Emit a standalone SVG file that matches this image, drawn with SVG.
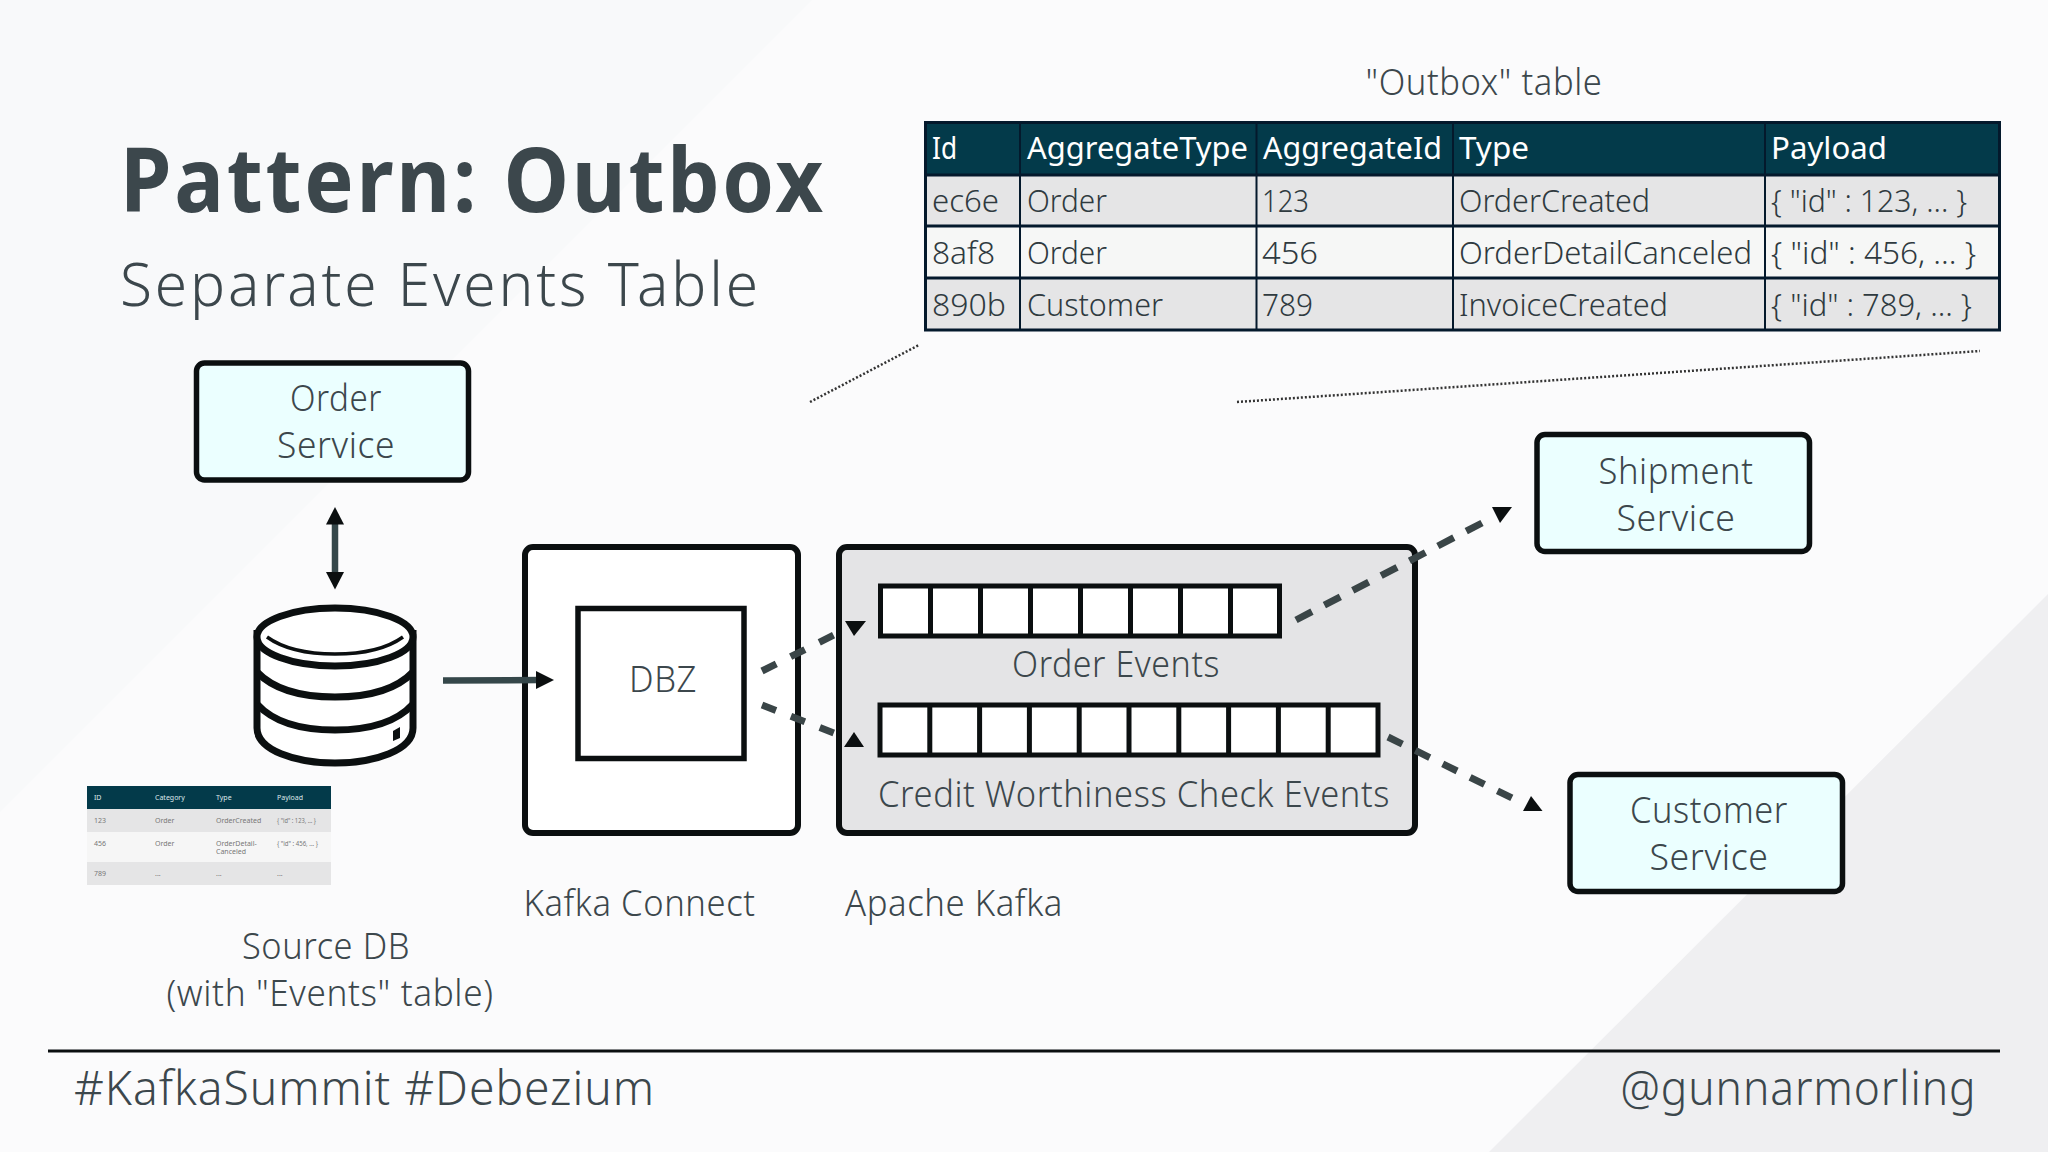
<svg xmlns="http://www.w3.org/2000/svg" width="2048" height="1152" viewBox="0 0 2048 1152">
<style>
text{font-family:"Noto Sans","Liberation Sans",sans-serif;fill:#3c474c;font-weight:300}
.box{stroke:#0b0f10;stroke-width:5.500;fill:#ebffff}
.w{stroke:#0b0f10;stroke-width:6;fill:#fff}
.l{font-size:36px;letter-spacing:.6px}
.th{font-size:31px;fill:#fff;font-weight:400}
.td{font-size:31px;fill:#2f3a3f}
.hl{stroke:#04192c;stroke-width:2;fill:none}
.hl2{stroke:#04192c;stroke-width:3;fill:none}
.dash{stroke:#3a4547;stroke-width:7;fill:none}
.dot{stroke:#333;stroke-width:2.500;stroke-dasharray:2 2;fill:none}
.cell{stroke:#0b0f10;stroke-width:5;fill:#fff}
.ah{fill:#0b0f10}
.shaft{stroke:#35474a;stroke-width:6.500;fill:none}
.st{font-size:7px;fill:#777;font-weight:400}
.sth{font-size:7px;fill:#dfe8ea;font-weight:400}
</style>
<rect width="2048" height="1152" fill="#fbfbfc"/>
<polygon points="0,0 812,0 0,812" fill="#f8f9fa"/>
<polygon points="2048,594 2048,1152 1489,1152" fill="#efeff1"/>
<g id="title">
<text x="120" y="212" style="font-size:90px;font-weight:700;letter-spacing:3px" textLength="706" lengthAdjust="spacingAndGlyphs">Pattern: Outbox</text>
<text x="120" y="305.500" style="font-size:60px;letter-spacing:3px" textLength="641" lengthAdjust="spacingAndGlyphs">Separate Events Table</text>
</g>
<g id="outbox-table">
<text class="l" x="1365.500" y="95" textLength="237" lengthAdjust="spacingAndGlyphs">"Outbox" table</text>
<rect x="925" y="122" width="1075" height="53" fill="#033a4a"/>
<rect x="925" y="175" width="1075" height="51" fill="#e5e5e6"/>
<rect x="925" y="226" width="1075" height="52" fill="#f6f7f6"/>
<rect x="925" y="278" width="1075" height="52" fill="#e5e5e6"/>
<path class="hl2" d="M925.500 122.500H1999.500V330H925.500ZM925 175H2000M925 226H2000M925 278H2000"/>
<path class="hl" d="M1020 122V330M1256.500 122V330M1453 122V330M1765 122V330"/>
<text class="th" x="932" y="159" textLength="25" lengthAdjust="spacingAndGlyphs">Id</text>
<text class="th" x="1027" y="159" textLength="221" lengthAdjust="spacingAndGlyphs">AggregateType</text>
<text class="th" x="1263" y="159" textLength="179" lengthAdjust="spacingAndGlyphs">AggregateId</text>
<text class="th" x="1459" y="159" textLength="70" lengthAdjust="spacingAndGlyphs">Type</text>
<text class="th" x="1771" y="159" textLength="116" lengthAdjust="spacingAndGlyphs">Payload</text>
<text class="td" x="932" y="212" textLength="67" lengthAdjust="spacingAndGlyphs">ec6e</text>
<text class="td" x="1027" y="212" textLength="80" lengthAdjust="spacingAndGlyphs">Order</text>
<text class="td" x="1262" y="212" textLength="47" lengthAdjust="spacingAndGlyphs">123</text>
<text class="td" x="1459" y="212" textLength="191" lengthAdjust="spacingAndGlyphs">OrderCreated</text>
<text class="td" x="1771" y="212" textLength="196" lengthAdjust="spacingAndGlyphs">{ "id" : 123, ... }</text>
<text class="td" x="932" y="264" textLength="63" lengthAdjust="spacingAndGlyphs">8af8</text>
<text class="td" x="1027" y="264" textLength="80" lengthAdjust="spacingAndGlyphs">Order</text>
<text class="td" x="1262" y="264" textLength="56" lengthAdjust="spacingAndGlyphs">456</text>
<text class="td" x="1459" y="264" textLength="293" lengthAdjust="spacingAndGlyphs">OrderDetailCanceled</text>
<text class="td" x="1771" y="264" textLength="205" lengthAdjust="spacingAndGlyphs">{ "id" : 456, ... }</text>
<text class="td" x="932" y="316" textLength="74" lengthAdjust="spacingAndGlyphs">890b</text>
<text class="td" x="1027" y="316" textLength="136" lengthAdjust="spacingAndGlyphs">Customer</text>
<text class="td" x="1262" y="316" textLength="51" lengthAdjust="spacingAndGlyphs">789</text>
<text class="td" x="1459" y="316" textLength="209" lengthAdjust="spacingAndGlyphs">InvoiceCreated</text>
<text class="td" x="1771" y="316" textLength="201" lengthAdjust="spacingAndGlyphs">{ "id" : 789, ... }</text>
</g>
<g id="order-service">
<rect class="box" x="196.500" y="363" width="272" height="117" rx="8"/>
<text class="l" x="336" y="410.500" text-anchor="middle" textLength="92" lengthAdjust="spacingAndGlyphs">Order</text>
<text class="l" x="336" y="457.500" text-anchor="middle" textLength="118" lengthAdjust="spacingAndGlyphs">Service</text>
</g>
<g id="source-db">
<path d="M257 630V728C257 750 295 763 335 763C375 763 413 750 413 728V630" fill="#fff" stroke="#0b0f10" stroke-width="7"/>
<ellipse cx="335" cy="637" rx="78" ry="29" fill="#fff" stroke="#0b0f10" stroke-width="7"/>
<path d="M267 637C285 650 310 654 335 654C360 654 385 650 403 637" fill="none" stroke="#0b0f10" stroke-width="3.500"/>
<path d="M257 672C275 691 305 697 335 697C365 697 395 691 413 672M257 704C275 724 305 730 335 730C365 730 395 724 413 704" fill="none" stroke="#0b0f10" stroke-width="7"/>
<polygon points="393,731 400,727 400,738 393,741" fill="#0b0f10"/>
</g>
<g id="events-table">
<rect x="87" y="786" width="244" height="23" fill="#033a4a"/>
<rect x="87" y="809" width="244" height="23" fill="#e5e5e6"/>
<rect x="87" y="832" width="244" height="30" fill="#f6f6f6"/>
<rect x="87" y="862" width="244" height="23" fill="#e5e5e6"/>
<text class="sth" x="94" y="800">ID</text><text class="sth" x="155" y="800">Category</text><text class="sth" x="216" y="800">Type</text><text class="sth" x="277" y="800">Payload</text>
<text class="st" x="94" y="823">123</text><text class="st" x="155" y="823">Order</text><text class="st" x="216" y="823">OrderCreated</text><text class="st" x="277" y="823" textLength="39" lengthAdjust="spacingAndGlyphs">{ "id" : 123, ... }</text>
<text class="st" x="94" y="846">456</text><text class="st" x="155" y="846">Order</text><text class="st" x="216" y="846">OrderDetail-</text><text class="st" x="216" y="853.500">Canceled</text><text class="st" x="277" y="846" textLength="41" lengthAdjust="spacingAndGlyphs">{ "id" : 456, ... }</text>
<text class="st" x="94" y="876">789</text><text class="st" x="155" y="876">...</text><text class="st" x="216" y="876">...</text><text class="st" x="277" y="876">...</text>
<text class="l" x="326" y="958.500" text-anchor="middle" textLength="168" lengthAdjust="spacingAndGlyphs">Source DB</text>
<text class="l" x="330" y="1005.500" text-anchor="middle" textLength="327" lengthAdjust="spacingAndGlyphs">(with "Events" table)</text>
</g>
<g id="kafka-connect">
<rect class="w" x="525" y="547" width="273" height="286" rx="8"/>
<rect class="w" x="578" y="608.500" width="166" height="150" style="stroke-width:5.500"/>
<text class="l" x="663" y="691.500" text-anchor="middle" textLength="68" lengthAdjust="spacingAndGlyphs">DBZ</text>
<text class="l" x="523.500" y="915.500" textLength="232" lengthAdjust="spacingAndGlyphs">Kafka Connect</text>
</g>
<g id="apache-kafka">
<rect x="839" y="547" width="576" height="286" rx="8" fill="#e4e4e6" stroke="#0b0f10" stroke-width="6"/>
<rect class="cell" x="880.500" y="586" width="399" height="50"/>
<path class="cell" d="M930.500 586V636M980.500 586V636M1030.500 586V636M1080.500 586V636M1130.500 586V636M1180.500 586V636M1230.500 586V636"/>
<text class="l" x="1116" y="676.500" text-anchor="middle" textLength="208" lengthAdjust="spacingAndGlyphs">Order Events</text>
<rect class="cell" x="880" y="705" width="498" height="50"/>
<path class="cell" d="M929.800 705V755M979.600 705V755M1029.400 705V755M1079.200 705V755M1129 705V755M1178.800 705V755M1228.600 705V755M1278.400 705V755M1328.200 705V755"/>
<text class="l" x="878" y="806.500" textLength="512" lengthAdjust="spacingAndGlyphs">Credit Worthiness Check Events</text>
<text class="l" x="845" y="915.500" textLength="218" lengthAdjust="spacingAndGlyphs">Apache Kafka</text>
</g>
<g id="shipment-service">
<rect class="box" x="1537" y="434.500" width="272.500" height="117" rx="8"/>
<text class="l" x="1676" y="483.500" text-anchor="middle" textLength="155" lengthAdjust="spacingAndGlyphs">Shipment</text>
<text class="l" x="1676" y="530.500" text-anchor="middle" textLength="119" lengthAdjust="spacingAndGlyphs">Service</text>
</g>
<g id="customer-service">
<rect class="box" x="1570" y="774.500" width="272.500" height="117" rx="8"/>
<text class="l" x="1709" y="823" text-anchor="middle" textLength="158" lengthAdjust="spacingAndGlyphs">Customer</text>
<text class="l" x="1709" y="870" text-anchor="middle" textLength="119" lengthAdjust="spacingAndGlyphs">Service</text>
</g>
<g id="connectors">
<path class="dot" d="M810 402L919 345"/>
<path class="dot" d="M1237 402L1980 351"/>
<path class="shaft" d="M335 515V582"/>
<polygon class="ah" points="335,507 344,524.500 326,524.500"/>
<polygon class="ah" points="335,589.500 344,572 326,572"/>
<path class="shaft" d="M443 680.500L540 680"/>
<polygon class="ah" points="554,680 536,671 536,689"/>
<path class="dash" stroke-dasharray="16 16" d="M762 671L834 635"/>
<polygon class="ah" points="845,621 866,621 854,636"/>
<path class="dash" stroke-dasharray="15 16" d="M762 705L834 733"/>
<polygon class="ah" points="844,747 864,747 854,732"/>
<path class="dash" stroke-dasharray="18 14" d="M1296 620L1482 523"/>
<polygon class="ah" points="1492,507 1512,507 1500,523"/>
<path class="dash" stroke-dasharray="16 14.500" d="M1388 737L1512 798"/>
<polygon class="ah" points="1523,811 1542.500,811 1531,796"/>
</g>
<g id="footer">
<path d="M48 1051H2000" stroke="#0b0f10" stroke-width="3"/>
<text x="74" y="1105" style="font-size:48px;letter-spacing:1px" textLength="581" lengthAdjust="spacingAndGlyphs">#KafkaSummit #Debezium</text>
<text x="1620.500" y="1105" style="font-size:48px;letter-spacing:1px" textLength="356" lengthAdjust="spacingAndGlyphs">@gunnarmorling</text>
</g>
</svg>
